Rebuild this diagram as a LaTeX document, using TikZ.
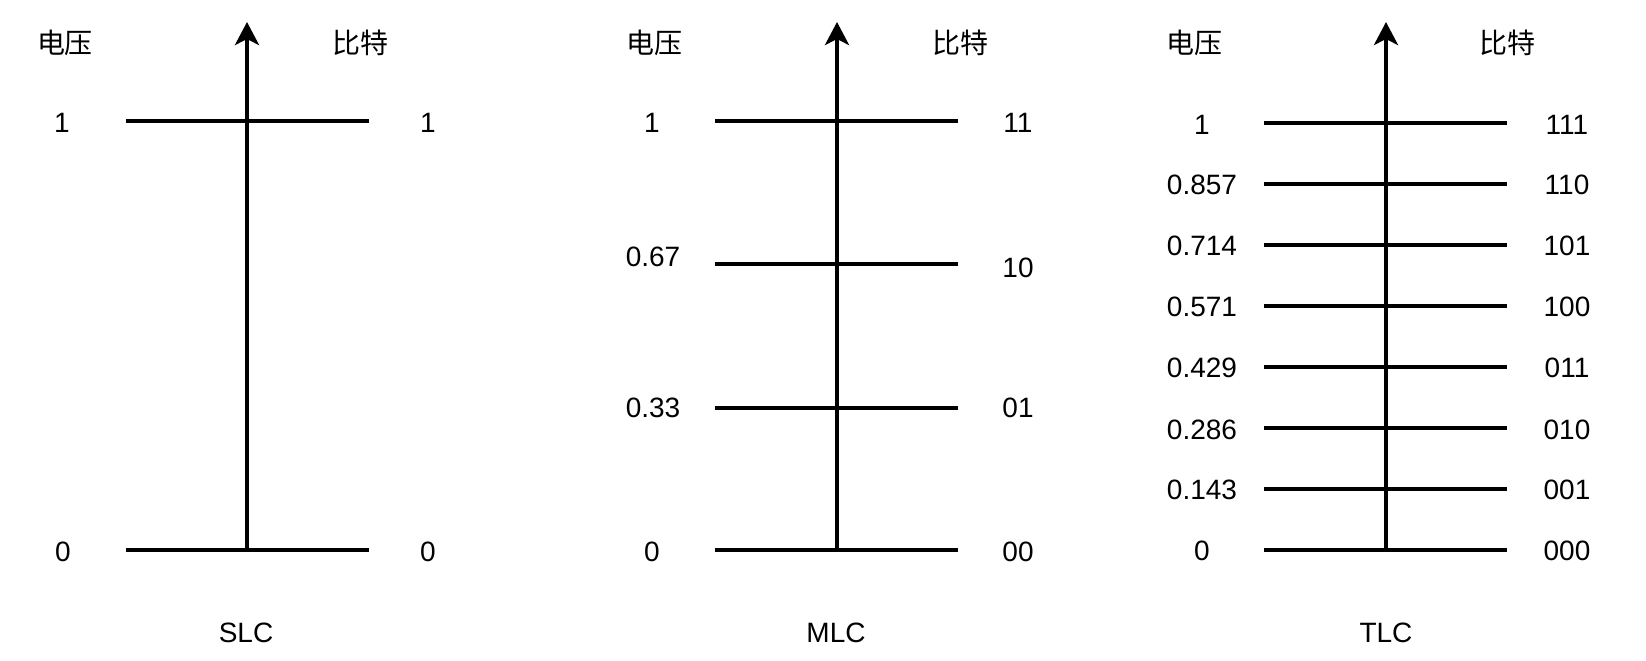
\documentclass[tikz,border=0pt]{standalone}
\usepackage{fontspec}
\setmainfont{Liberation Sans}
\newfontfamily\cjk{Noto Sans CJK SC}
\usetikzlibrary{arrows.meta}
\begin{document}
\begin{tikzpicture}[x=0.5pt,y=-0.5pt,
  lvl/.style={line width=2pt},
  axisline/.style={line width=2pt,-{Stealth[length=11.5pt,width=12pt,inset=3pt]}},
  lbl/.style={inner sep=0pt,font=\fontsize{14}{16}\selectfont},
  hd/.style={inner sep=0pt,font=\cjk\fontsize{14}{16}\selectfont}]
\useasboundingbox (0,0) rectangle (1646,660);

% ---------- SLC ----------
\coordinate (sbot) at (247,550);
\coordinate (stop) at (247,22);
\draw[axisline] (sbot) -- (stop);
\coordinate (s1l) at (126,121); \coordinate (s1r) at (369,121);
\coordinate (s0l) at (126,550); \coordinate (s0r) at (369,550);
\draw[lvl] (s1l) -- (s1r);
\draw[lvl] (s0l) -- (s0r);
\node[hd] (sv) at (65,43) {电压};
\node[hd] (sb) at (360,43) {比特};
\node[lbl] (sl1) at (62,123) {1};
\node[lbl] (sr1) at (428,123) {1};
\node[lbl] (sl0) at (63,552) {0};
\node[lbl] (sr0) at (428,552) {0};
\node[lbl] (stitle) at (246,633) {SLC};

% ---------- MLC ----------
\coordinate (mbot) at (837,550);
\coordinate (mtop) at (837,22);
\draw[axisline] (mbot) -- (mtop);
\foreach \y [count=\i] in {121,264,408,550} {
  \coordinate (ml\i) at (715,\y);
  \coordinate (mr\i) at (958,\y);
  \draw[lvl] (ml\i) -- (mr\i);
}
\node[hd] (mv) at (654,43) {电压};
\node[hd] (mb) at (960,43) {比特};
\node[lbl] (mla) at (652,123) {1};
\node[lbl] (mlb) at (653,257) {0.67};
\node[lbl] (mlc) at (653,408) {0.33};
\node[lbl] (mld) at (652,552) {0};
\node[lbl] (mra) at (1018,123) {11};
\node[lbl] (mrb) at (1018,268) {10};
\node[lbl] (mrc) at (1018,408) {01};
\node[lbl] (mrd) at (1018,552) {00};
\node[lbl] (mtitle) at (836,633) {MLC};

% ---------- TLC ----------
\coordinate (tbot) at (1386,550);
\coordinate (ttop) at (1386,22);
\draw[axisline] (tbot) -- (ttop);
\foreach \y [count=\i] in {123,184,245,306,367,428,489,550} {
  \coordinate (tl\i) at (1264,\y);
  \coordinate (tr\i) at (1507,\y);
  \draw[lvl] (tl\i) -- (tr\i);
}
\node[hd] (tv) at (1194,43) {电压};
\node[hd] (tb) at (1507,43) {比特};
\foreach \y/\v/\b [count=\i] in {125/1/111,185/0.857/110,246/0.714/101,307/0.571/100,368/0.429/011,430/0.286/010,490/0.143/001,551/0/000} {
  \node[lbl] (tlv\i) at (1202,\y) {\v};
  \node[lbl] (trb\i) at (1567,\y) {\b};
}
\node[lbl] (ttitle) at (1386,633) {TLC};
\end{tikzpicture}
\end{document}
